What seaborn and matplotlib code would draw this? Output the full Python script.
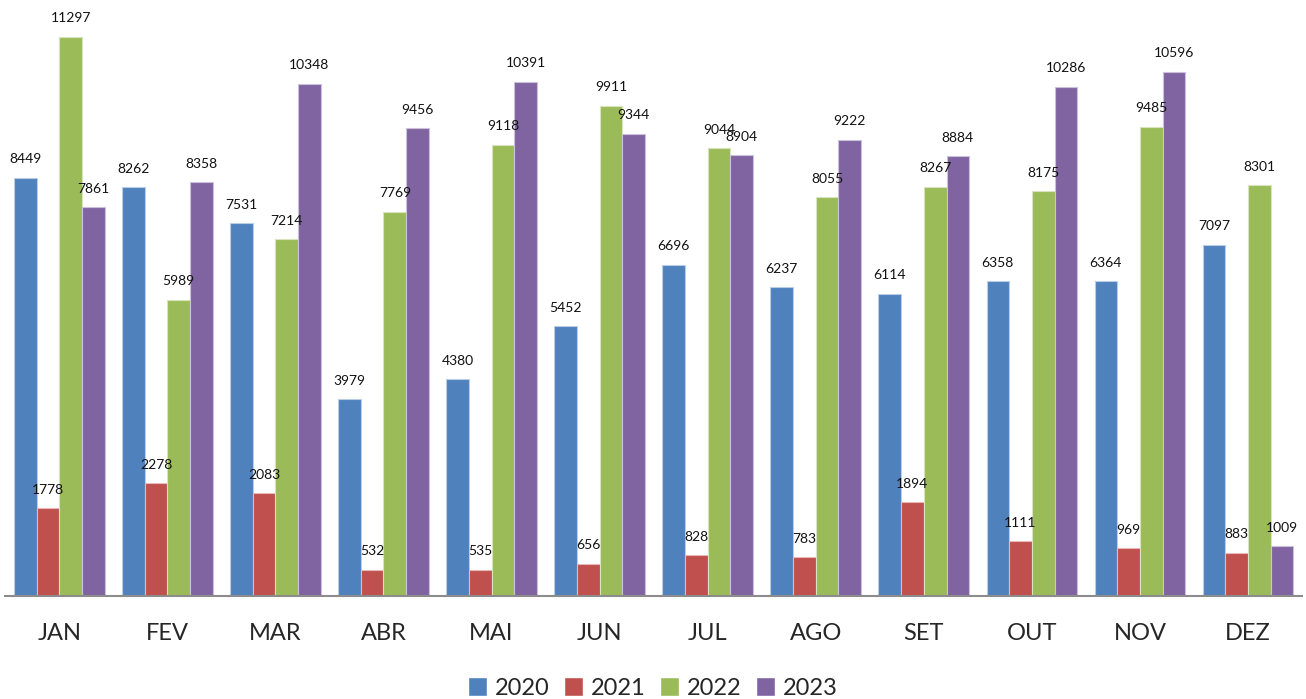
import matplotlib
matplotlib.use("Agg")
import matplotlib.pyplot as plt
import seaborn as sns
import pandas as pd

months = ["JAN", "FEV", "MAR", "ABR", "MAI", "JUN", "JUL", "AGO", "SET", "OUT", "NOV", "DEZ"]
years = ["2020", "2021", "2022", "2023"]
v2020 = [8449, 8262, 7531, 3979, 4380, 5452, 6696, 6237, 6114, 6358, 6364, 7097]
v2021 = [1778, 2278, 2083, 532, 535, 656, 828, 783, 1894, 1111, 969, 883]
v2022 = [11297, 5989, 7214, 7769, 9118, 9911, 9044, 8055, 8267, 8175, 9485, 8301]
v2023 = [7861, 8358, 10348, 9456, 10391, 9344, 8904, 9222, 8884, 10286, 10596, 1009]
colors = ["#4F81BD", "#C0504D", "#9BBB59", "#8064A2"]
edges = ["#B9CDE5", "#E6B9B8", "#D7E4BD", "#CCC1DA"]

rows = []
for y, vals in zip(years, [v2020, v2021, v2022, v2023]):
    for m, v in zip(months, vals):
        rows.append({"month": m, "year": y, "value": v})
df = pd.DataFrame(rows)

sns.set_style("white")
plt.rcParams["font.family"] = ["Lato", "DejaVu Sans"]

fig = plt.figure(figsize=(13.06, 6.99), dpi=100)
ax = fig.add_axes([0.004, 0.147, 0.993, 0.85])
sns.barplot(data=df, x="month", y="value", hue="year", order=months, hue_order=years,
            palette=colors, saturation=1, width=0.84, ax=ax, legend=True)

for cont, ec in zip(ax.containers, edges):
    for b in cont:
        b.set_edgecolor(ec)
        b.set_linewidth(0.8)
    ax.bar_label(cont, padding=9, fontsize=10, color="#111111")

ax.set_ylim(0, 12000)
ax.set_xlim(-0.5, 11.5)
ax.set_xlabel("")
ax.set_ylabel("")
ax.set_yticks([])
for s in ["top", "right", "left"]:
    ax.spines[s].set_visible(False)
ax.spines["bottom"].set_color("#8C8C8C")
ax.spines["bottom"].set_linewidth(1.5)
ax.tick_params(axis="x", length=0, pad=19, labelsize=17)

handles, labels = ax.get_legend_handles_labels()
ax.get_legend().remove()
fig.legend(handles, labels, loc="lower center", bbox_to_anchor=(0.5, -0.03), ncol=4,
           frameon=False, fontsize=17, handlelength=0.8, handleheight=0.8,
           handletextpad=0.35, columnspacing=0.6)

fig.savefig("out.png", dpi=100)
